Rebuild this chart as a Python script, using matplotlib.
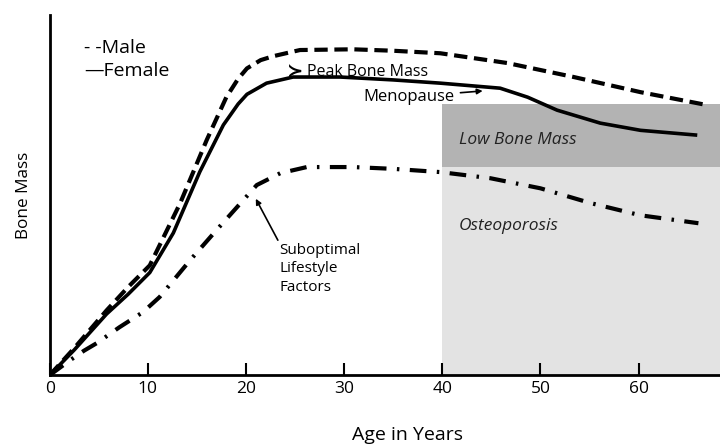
import matplotlib
matplotlib.use('Agg')
import matplotlib.pyplot as plt
import numpy as np

plt.rcParams['font.family'] = ['Open Sans', 'DejaVu Sans']

# curves (age in years, bone mass 0-100)
male_age = [0, 2.5, 5.8, 8, 10.2, 13.3, 16, 18, 19.2, 20.1, 21.5, 22.8, 25.5, 30.9, 35,
            39.8, 46.6, 53.4, 60.2, 67]
male_val = [0, 7.5, 18, 24.5, 30.5, 47.8, 65.3, 77.2, 82.3, 85.2, 87.5, 88.6, 90.3, 90.5,
            90.1, 89.4, 86.7, 82.8, 78.6, 75]

female_age = [0, 2.5, 5.8, 8, 10.2, 12.6, 15.3, 17.7, 19.2, 20.1, 22.1, 24.8, 29.6, 35,
              39.8, 45.9, 48.7, 51.7, 56.1, 60.2, 65.8]
female_val = [0, 7, 17, 22.5, 28.5, 39.5, 56.5, 69.5, 75.3, 78, 81.1, 82.8, 82.8, 82,
              81.1, 79.7, 77.2, 73.6, 70, 68, 66.7]

sub_age = [0, 2, 3.5, 4.8, 7.1, 9.5, 11.2, 14.3, 17, 21.1, 23.5, 26.2, 30.9, 35, 39.8,
           44.9, 50, 55.1, 60.2, 66.1]
sub_val = [0, 4, 6.8, 8.9, 13.3, 17.5, 21.7, 31.9, 40.3, 52.8, 56.1, 57.8, 57.8, 57.3,
           56.4, 54.7, 51.9, 47.8, 44.4, 42.2]

low_mass = [57.8, 75.3]
osteo = [0, 57.8]
menopause_age = 40
xticks = [0, 10, 20, 30, 40, 50, 60]

fig = plt.figure(figsize=(7.2, 4.44), dpi=100)
ax = fig.add_axes([0.069, 0.155, 0.931, 0.811])
ax.set_xlim(0, 68.3)
ax.set_ylim(0, 100)

ax.axvspan(menopause_age, 68.3, ymin=osteo[0] / 100, ymax=osteo[1] / 100,
           color='#e3e3e3', lw=0, zorder=0)
ax.axvspan(menopause_age, 68.3, ymin=low_mass[0] / 100, ymax=low_mass[1] / 100,
           color='#b3b3b3', lw=0, zorder=0)

ax.plot(male_age, male_val, color='black', lw=3, ls=(0, (3.2, 1.6)), solid_joinstyle='round')
ax.plot(female_age, female_val, color='black', lw=2.6, solid_joinstyle='round')
ax.plot(sub_age, sub_val, color='black', lw=3, ls=(0, (4, 2.5, 0.6, 2.5)))

for s in ['top', 'right']:
    ax.spines[s].set_visible(False)
for s in ['left', 'bottom']:
    ax.spines[s].set_linewidth(2)
ax.set_yticks([])
ax.set_xticks(xticks)
ax.tick_params(axis='x', direction='in', length=9, width=1.5, labelsize=12.5, pad=4)

ax.set_xlabel('Age in Years', fontsize=14)
ax.xaxis.set_label_coords(0.534, -0.142)
ax.set_ylabel('Bone Mass', fontsize=12.3, labelpad=13)

ax.text(3.5, 89.5, '- -Male', fontsize=14)
ax.text(3.5, 83, '\u2014Female', fontsize=14)

ax.text(24.2, 84.3, '\u227B', fontsize=14, fontweight='bold', family='DejaVu Sans', va='center')
ax.text(26.2, 84.3, 'Peak Bone Mass', fontsize=11.5, va='center')
ax.annotate('Menopause', xy=(44.4, 79), xytext=(32, 76.2), fontsize=12,
            arrowprops=dict(arrowstyle='-|>', color='black', lw=1.2, mutation_scale=8))
ax.annotate('Suboptimal\nLifestyle\nFactors', xy=(21, 49), xytext=(23.4, 23.5),
            fontsize=11, linespacing=1.3,
            arrowprops=dict(arrowstyle='-|>', color='black', lw=1.2, mutation_scale=8,
                            shrinkA=0, shrinkB=0, relpos=(0, 1)))

ax.text(41.7, 64.3, 'Low Bone Mass', fontsize=12.5, style='italic', color='#222222')
ax.text(41.7, 40.3, 'Osteoporosis', fontsize=12.5, style='italic', color='#222222')

fig.savefig('out.png', dpi=100)
